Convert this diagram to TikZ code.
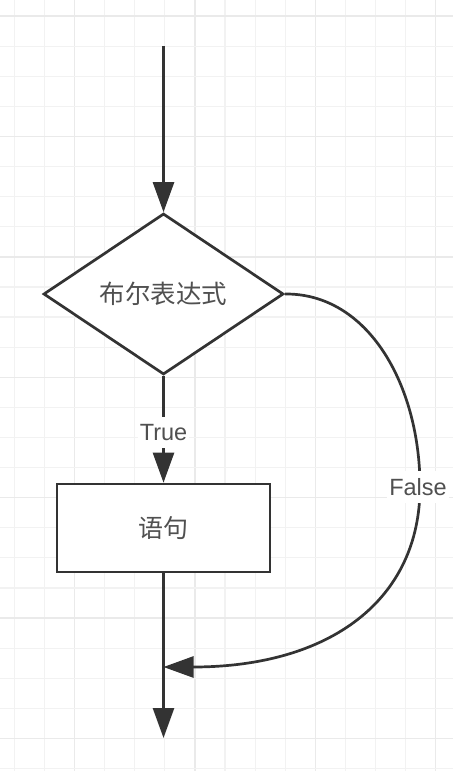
\documentclass[tikz,border=0pt]{standalone}
\usepackage{fontspec}
\setmainfont{Liberation Sans}
\newfontfamily\cjk{Noto Sans CJK SC}
\usetikzlibrary{shapes.geometric,arrows.meta}

\definecolor{gridminor}{HTML}{F2F2F2}
\definecolor{gridmajor}{HTML}{EAEAEA}
\definecolor{ink}{HTML}{333333}
\definecolor{txt}{HTML}{505050}

\tikzset{
  flowline/.style={draw=ink, line width=2.7pt},
  flowarrow/.style={flowline, -{Triangle[length=30pt,width=21pt]}},
  decision/.style={diamond, draw=ink, line width=2.7pt, fill=white, inner sep=0pt,
    minimum width=240pt, minimum height=161pt, text=txt, font=\cjk\fontsize{25.5}{30}\selectfont},
  process/.style={rectangle, draw=ink, line width=2.7pt, fill=white, inner sep=0pt,
    minimum width=213pt, minimum height=88pt, text=txt, font=\cjk\fontsize{25}{30}\selectfont},
  edgelabel/.style={fill=white, text=txt, inner xsep=2pt, inner ysep=7pt,
    font=\fontsize{23.5}{28}\selectfont}
}

\begin{document}
\begin{tikzpicture}[x=1pt, y=-1pt]
  \useasboundingbox (0,0) rectangle (453,771);
  \fill[white] (0,0) rectangle (453,771);

  % background grid: minor every 30.1, major every fourth line
  \foreach \i in {0,...,14} {
    \pgfmathsetmacro{\gx}{14.3+30.1*\i}
    \pgfmathtruncatemacro{\m}{mod(\i,4)}
    \ifnum\m=2
      \draw[gridmajor, line width=1.4pt] (\gx,0) -- (\gx,771);
    \else
      \draw[gridminor, line width=1.2pt] (\gx,0) -- (\gx,771);
    \fi
  }
  \foreach \j in {0,...,25} {
    \pgfmathsetmacro{\gy}{16+30.1*\j}
    \pgfmathtruncatemacro{\m}{mod(\j,4)}
    \ifnum\m=0
      \draw[gridmajor, line width=1.4pt] (0,\gy) -- (453,\gy);
    \else
      \draw[gridminor, line width=1.2pt] (0,\gy) -- (453,\gy);
    \fi
  }

  % flowchart
  \coordinate (start) at (163.5,46);
  \node[decision] (cond) at (163.5,294) {布尔表达式};
  \node[process] (stmt) at (163.5,528) {语句};
  \coordinate (merge) at (163.5,667);
  \coordinate (finish) at (163.5,738);

  \draw[flowarrow] (start) -- (cond.north);
  \draw[flowarrow] (cond.south) -- node[edgelabel, pos=0.53] {True} (stmt.north);
  \draw[flowarrow] (stmt.south) -- (finish);
  \draw[flowarrow] (cond.east)
      .. controls (368,293) and (420,385) .. (420,487)
      node[edgelabel, xshift=-2pt] {False}
      .. controls (420,600) and (330,667) .. (merge);
\end{tikzpicture}
\end{document}
